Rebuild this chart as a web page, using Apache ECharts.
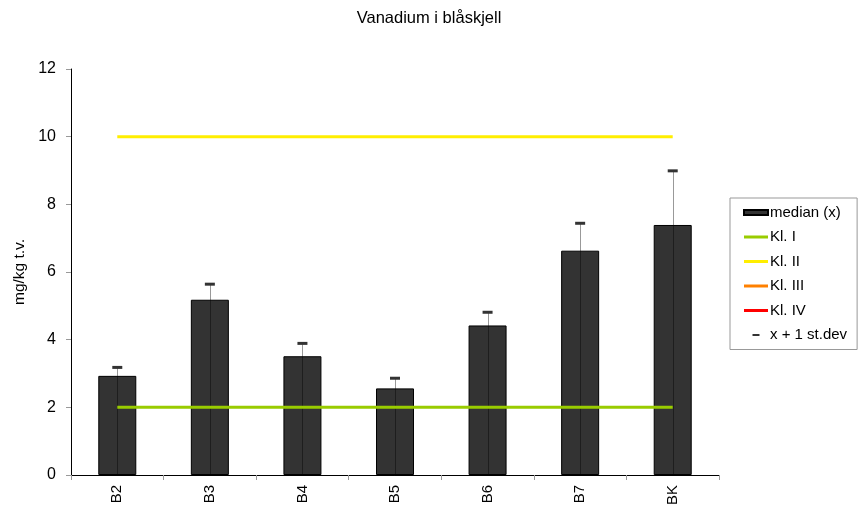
<!DOCTYPE html>
<html>
<head>
<meta charset="utf-8">
<script src="https://cdn.jsdelivr.net/npm/echarts@6/dist/echarts.min.js"></script>
<style>
  html, body { margin: 0; padding: 0; background: #fff; }
  #chart { width: 858px; height: 511px; }
</style>
</head>
<body>
<div id="chart"></div>
<script>
// stations and measured values (mg/kg t.v.)
const categories = ['B2', 'B3', 'B4', 'B5', 'B6', 'B7', 'BK']
const median = [2.93, 5.18, 3.51, 2.56, 4.42, 6.63, 7.39]
const medianPlusSd = [3.18, 5.64, 3.89, 2.86, 4.81, 7.44, 8.99]
// class limits
const klI = [2, 2, 2, 2, 2, 2, 2]
const klII = [10, 10, 10, 10, 10, 10, 10]
const yTicks = [0, 2, 4, 6, 8, 10, 12]

const font = 'Liberation Sans, Arial, sans-serif'
const lineIcon = 'path://M0,0M24,7M0,2H24V5H0Z'
const chart = echarts.init(document.getElementById('chart'))

chart.setOption({
  animation: false,
  textStyle: { fontFamily: font },
  title: {
    text: 'Vanadium i blåskjell',
    left: 'center',
    top: 5,
    textStyle: { fontSize: 16.5, fontWeight: 'normal', color: '#000', fontFamily: font },
  },
  grid: { left: 71, right: 139, top: 69, bottom: 36, outerBoundsMode: 'none' },
  legend: {
    orient: 'vertical',
    left: 730,
    top: 198,
    padding: [7, 10, 7, 13],
    itemWidth: 24,
    itemHeight: 7,
    itemGap: 9.5,
    borderColor: '#999',
    borderWidth: 1,
    textStyle: { fontSize: 15, color: '#000', lineHeight: 15, padding: [0, 0, 0, -3], fontFamily: font },
    data: [
      { name: 'median (x)', icon: 'path://M0,0M24,7M0,1H24V6H0Z' },
      { name: 'Kl. I', icon: lineIcon },
      { name: 'Kl. II', icon: lineIcon },
      { name: 'Kl. III', icon: lineIcon },
      { name: 'Kl. IV', icon: lineIcon },
      { name: 'x + 1 st.dev', icon: 'path://M0,0M24,7M8.5,2.5H15.5V4.5H8.5Z' },
    ],
  },
  xAxis: {
    type: 'category',
    data: categories,
    axisLine: { lineStyle: { color: '#000', width: 1 } },
    axisTick: { show: true, length: 5, lineStyle: { color: '#999' } },
    axisLabel: { rotate: 90, fontSize: 15, color: '#000', margin: 10, fontFamily: font },
  },
  yAxis: {
    type: 'value',
    min: yTicks[0],
    max: yTicks[yTicks.length - 1],
    interval: yTicks[1] - yTicks[0],
    name: 'mg/kg t.v.',
    nameLocation: 'middle',
    nameGap: 43,
    nameMoveOverlap: false,
    nameTextStyle: { fontSize: 15.5, color: '#000', fontFamily: font },
    axisLine: { show: true, lineStyle: { color: '#000', width: 1 } },
    axisTick: { show: true, length: 5, lineStyle: { color: '#999' } },
    axisLabel: { fontSize: 16, color: '#000', margin: 15, fontFamily: font },
    splitLine: { show: false },
  },
  series: [
    {
      name: 'median (x)',
      type: 'bar',
      data: median,
      barWidth: 38,
      itemStyle: { color: '#333333', borderColor: '#000', borderWidth: 1 },
      z: 2,
    },
    {
      name: 'errLine',
      type: 'custom',
      data: medianPlusSd.map((v, i) => [i, v]),
      renderItem: (params, api) => {
        const top = api.coord([api.value(0), api.value(1)])
        const base = api.coord([api.value(0), 0])
        const x = Math.round(top[0]) + 0.5
        return {
          type: 'line',
          shape: { x1: x, y1: base[1], x2: x, y2: top[1] },
          style: { stroke: 'rgba(0,0,0,0.4)', lineWidth: 1 },
        }
      },
      z: 3,
      silent: true,
    },
    {
      name: 'Kl. I',
      type: 'line',
      data: klI,
      symbol: 'none',
      lineStyle: { color: '#99cc00', width: 3 },
      itemStyle: { color: '#99cc00' },
      z: 4,
    },
    {
      name: 'Kl. II',
      type: 'line',
      data: klII,
      symbol: 'none',
      lineStyle: { color: '#ffee00', width: 3 },
      itemStyle: { color: '#ffee00' },
      z: 4,
    },
    {
      name: 'Kl. III',
      type: 'line',
      data: [],
      symbol: 'none',
      lineStyle: { color: '#ff8000', width: 3 },
      itemStyle: { color: '#ff8000' },
    },
    {
      name: 'Kl. IV',
      type: 'line',
      data: [],
      symbol: 'none',
      lineStyle: { color: '#ff0000', width: 3 },
      itemStyle: { color: '#ff0000' },
    },
    {
      name: 'x + 1 st.dev',
      type: 'scatter',
      data: medianPlusSd,
      symbol: 'rect',
      symbolSize: [10, 3],
      itemStyle: { color: '#333333', opacity: 1 },
      z: 5,
    },
  ],
})
</script>
</body>
</html>
